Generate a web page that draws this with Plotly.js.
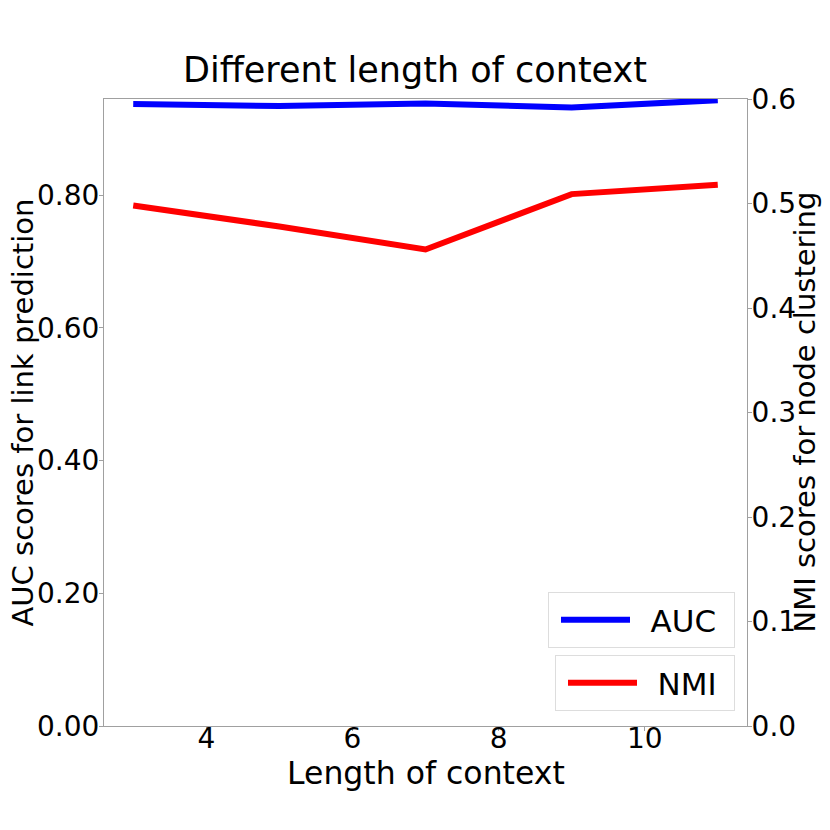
<!DOCTYPE html>
<html lang="en">
<head>
    <meta charset="utf-8">
    <title>Different length of context</title>
    <script src="https://cdn.plot.ly/plotly-3.0.1.min.js"></script>
    <style>
        html, body { margin: 0; padding: 0; background: #fff; }
        #plot { width: 830px; height: 830px; }
    </style>
</head>
<body>
    <div id="plot"></div>
    <script>
        // values
        const contextLength = [3, 5, 7, 9, 11];
        const aucScores = [0.937, 0.934, 0.938, 0.932, 0.943];
        const nmiScores = [0.498, 0.478, 0.456, 0.509, 0.518];

        const leftTicks = [0, 0.2, 0.4, 0.6, 0.8];
        const rightTicks = [0, 0.1, 0.2, 0.3, 0.4, 0.5, 0.6];
        const xTicks = [4, 6, 8, 10];

        const font = 'DejaVu Sans, sans-serif';
        const plotW = 643, plotH = 627;   // plot area in px

        const auc = {
            x: contextLength,
            y: aucScores,
            type: 'scatter',
            mode: 'lines',
            name: '\u2002AUC\u2009\u2009',
            line: { color: '#0000ff', width: 6 },
            legend: 'legend'
        };
        const nmi = {
            x: contextLength,
            y: nmiScores,
            type: 'scatter',
            mode: 'lines',
            name: '\u2002NMI\u2009\u2009',
            yaxis: 'y2',
            line: { color: '#ff0000', width: 6 },
            legend: 'legend2'
        };

        const axisCommon = {
            showgrid: false,
            zeroline: false,
            showline: true,
            linecolor: '#a0a0a0',
            linewidth: 1,
            ticks: 'outside',
            ticklen: 4,
            tickcolor: '#a0a0a0',
            tickfont: { family: font, size: 28, color: '#000' }
        };

        const legendCommon = {
            xanchor: 'right',
            yanchor: 'top',
            itemwidth: 69,
            indentation: 7,
            bgcolor: 'rgba(255,255,255,0.8)',
            bordercolor: '#dddddd',
            borderwidth: 1,
            font: { family: font, size: 31, color: '#000' }
        };

        function sideTitle(text, xpx) {
            return {
                text: text,
                xref: 'paper', yref: 'paper',
                x: xpx / plotW, y: 0.5,
                xanchor: 'center', yanchor: 'middle',
                textangle: -90, showarrow: false,
                font: { family: font, size: 29, color: '#000' }
            };
        }

        const layout = {
            width: 830,
            height: 830,
            margin: { l: 104, r: 83, t: 99, b: 104 },
            paper_bgcolor: '#fff',
            plot_bgcolor: '#fff',
            title: {
                text: 'Different length of context',
                font: { family: font, size: 35, color: '#000' },
                x: 0.5,
                xanchor: 'center',
                y: 1 - 70 / 830,
                yanchor: 'middle'
            },
            xaxis: Object.assign({}, axisCommon, {
                range: [2.6, 11.4],
                tickvals: xTicks,
                ticklabelstandoff: -17,
                mirror: true
            }),
            yaxis: Object.assign({}, axisCommon, {
                range: [0, 0.9447],
                tickvals: leftTicks,
                tickformat: '.2f',
                ticklabelstandoff: -6
            }),
            yaxis2: Object.assign({}, axisCommon, {
                range: [0, 0.6],
                tickvals: rightTicks,
                tickformat: '.1f',
                ticklabelstandoff: -6,
                overlaying: 'y',
                side: 'right'
            }),
            showlegend: true,
            legend: Object.assign({}, legendCommon, { x: 1 - 12 / plotW, y: 134 / plotH }),
            legend2: Object.assign({}, legendCommon, { x: 1 - 12 / plotW, y: 71 / plotH }),
            annotations: [
                sideTitle('AUC scores for link prediction', 22 - 104),
                sideTitle('NMI scores for node clustering', 804 - 104),
                {
                    text: 'Length of context',
                    xref: 'paper', yref: 'paper',
                    x: 0.5, y: -47 / plotH,
                    xanchor: 'center', yanchor: 'middle',
                    showarrow: false,
                    font: { family: font, size: 31.5, color: '#000' }
                }
            ]
        };

        Plotly.newPlot('plot', [auc, nmi], layout, { displayModeBar: false });
    </script>
</body>
</html>
